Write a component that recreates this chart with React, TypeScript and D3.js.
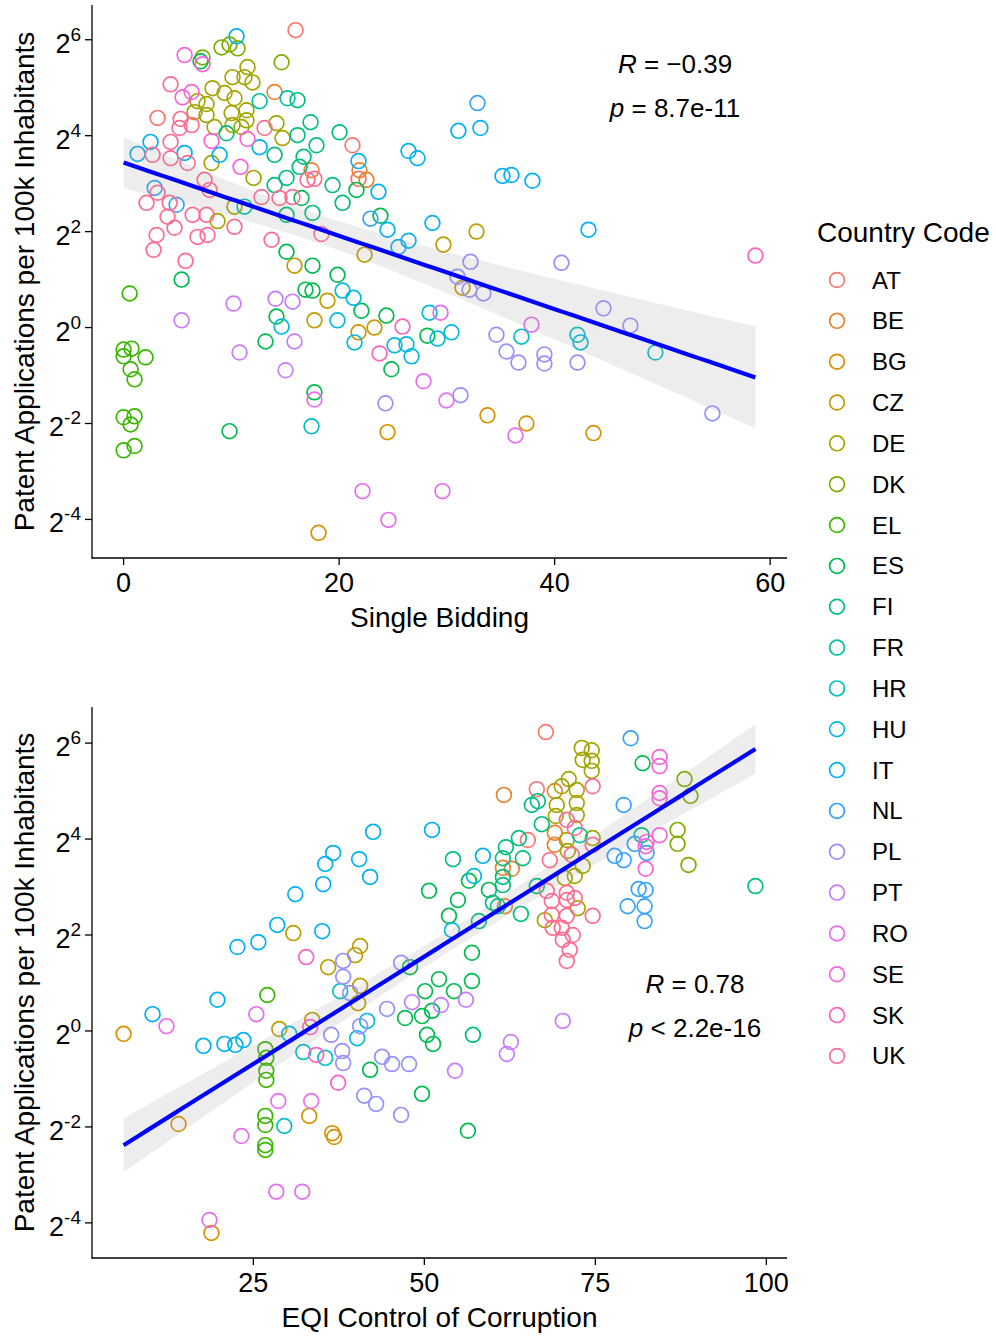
import React from 'react';
import * as d3 from 'd3';

const COUNTRIES = ['AT','BE','BG','CZ','DE','DK','EL','ES','FI','FR','HR','HU','IT','NL','PL','PT','RO','SE','SK','UK'];
const COLORS = ['#F8766D','#EA8331','#D89000','#C09B00','#A3A500','#7CAE00','#39B600','#00BB4E','#00BF7D','#00C1A3','#00BFC4','#00BAE0','#00B0F6','#35A2FF','#9590FF','#C77CFF','#E76BF3','#FA62DB','#FF62BC','#FF6C91'];

// ---- Panel 1: Single Bidding (x) vs log2 patent applications (y) ----
const sbX: Record<string, number[]> = {
  AT: [15.96, 3.15, 21.24, 21.80],
  BE: [14.01, 21.89, 22.54, 17.44],
  BG: [21.80, 24.49, 33.77, 37.38, 43.60, 18.09],
  CZ: [15.86, 18.92, 17.71, 23.28, 29.68, 32.75, 22.36, 31.45],
  DE: [10.11, 11.22, 11.50, 11.96, 8.25, 9.37, 10.29, 6.86, 7.70, 10.02, 11.41, 11.41, 8.44, 10.11, 10.94, 14.19, 14.75, 8.16, 12.06, 10.29, 8.72, 6.58, 7.70],
  DK: [9.09, 9.83, 10.58, 7.33, 14.66],
  EL: [0.56, 0, 0.74, 0, 2.04, 0.65, 1.02, 0, 1.02, 0.65, 0, 1.02],
  ES: [5.38, 7.14, 9.83, 13.17, 14.19, 15.12, 16.88, 17.53, 17.53, 17.71, 19.85, 22.07, 24.39, 24.85, 28.19, 16.51, 21.61, 23.84],
  FI: [9.55, 16.14, 16.14, 17.35, 14.01, 16.70, 16.33, 14.01, 15.12, 15.12, 17.53, 20.04, 17.90, 19.39, 20.32],
  FR: [12.62, 11.22, 15.21],
  HR: [17.44, 42.12, 49.35, 36.92],
  HU: [14.66, 20.32, 21.34, 19.85, 21.43, 25.14, 26.25, 26.72, 28.39, 29.13, 30.43, 42.40],
  IT: [10.48, 2.50, 12.62, 1.30, 8.91, 5.66, 21.80, 23.65, 24.49, 28.66, 26.44, 25.51, 31.07, 33.11, 26.44, 27.27, 35.16, 35.99, 37.94, 43.14],
  NL: [32.84, 2.88, 4.92, 22.91],
  PL: [24.30, 31.26, 30.98, 32.10, 33.39, 32.19, 34.60, 35.53, 36.64, 39.05, 39.05, 40.63, 44.53, 47.03, 42.12, 54.64],
  PT: [5.38, 10.20, 10.76, 15.86, 15.03, 14.10, 15.68],
  RO: [17.71, 29.41, 37.85, 29.96, 36.36, 22.17, 29.59, 24.58, 27.83],
  SE: [5.66, 7.33, 6.31, 5.47, 8.16, 11.50, 10.85],
  SK: [58.63, 25.88, 23.75],
  UK: [4.36, 5.29, 5.19, 6.31, 13.08, 4.36, 2.69, 4.36, 5.94, 7.51, 7.98, 3.15, 4.27, 2.13, 12.80, 14.47, 15.67, 17.06, 17.71, 4.08, 6.40, 7.70, 10.29, 4.73, 3.06, 6.86, 7.79, 13.73, 2.78, 5.75, 18.36],
};
const sbLog2Patents: Record<string, number[]> = {
  AT: [6.20, 4.37, 3.80, 3.10],
  BE: [4.91, 3.28, 3.08, 3.28],
  BG: [-0.10, -2.18, -1.83, -2.00, -2.20, -4.28],
  CZ: [1.29, 0.56, 0.15, 0.00, 1.73, 2.00, 1.52, 0.83],
  DE: [5.22, 5.22, 5.43, 5.11, 4.99, 4.89, 4.78, 4.72, 4.66, 4.47, 4.53, 4.32, 4.18, 4.22, 4.18, 4.26, 3.95, 3.43, 3.12, 2.52, 2.22, 4.49, 4.43],
  DK: [5.84, 5.90, 5.82, 5.63, 5.53],
  EL: [0.71, -0.46, -0.44, -0.60, -0.62, -0.87, -1.08, -1.87, -1.85, -2.02, -2.56, -2.47],
  ES: [1.00, 5.55, -2.16, -0.29, 0.23, 1.58, 0.79, 0.77, 1.29, -1.35, 1.10, 0.35, 0.25, -0.87, -0.17, 2.70, 2.87, 2.33],
  FI: [4.05, 4.74, 4.01, 4.28, 3.60, 3.56, 3.35, 2.97, 3.12, 2.35, 2.39, 4.07, 3.80, 2.97, 2.60],
  FR: [4.72, 2.52, 4.78],
  HR: [-2.06, -0.15, -0.52, -0.19],
  HU: [0.02, 0.77, 0.62, 0.15, -0.31, -0.37, -0.35, -0.60, 0.31, -0.23, -0.10, -0.31],
  IT: [6.07, 3.87, 3.76, 3.62, 3.60, 3.64, 3.47, 2.83, 2.04, 2.18, 1.81, 1.68, 4.10, 4.16, 3.68, 3.53, 3.16, 3.18, 3.06, 2.04],
  NL: [4.68, 2.91, 2.56, 2.27],
  PL: [-1.58, -1.41, 1.06, 0.79, 0.71, 1.37, -0.15, -0.50, -0.73, -0.56, -0.75, 1.35, 0.40, 0.04, -0.73, -1.79],
  PT: [0.15, 0.50, -0.52, -0.29, -0.89, 0.60, 0.54],
  RO: [-1.50, 0.31, 0.06, -1.52, -2.25, -3.41, -3.41, -4.01, -1.12],
  SE: [5.68, 5.49, 4.91, 4.80, 3.89, 3.93, 3.35],
  SK: [1.50, 0.02, -0.54],
  UK: [5.07, 4.35, 4.16, 4.22, 4.16, 3.87, 3.60, 3.53, 3.43, 3.08, 2.87, 2.81, 2.60, 2.60, 2.72, 2.70, 2.72, 3.08, 3.10, 2.31, 2.35, 2.35, 2.10, 2.08, 1.93, 1.89, 1.93, 1.83, 1.62, 1.39, 1.95],
};

// ---- Panel 2: EQI Control of Corruption (x) vs log2 patent applications (y) ----
const eqiX: Record<string, number[]> = {
  AT: [67.76, 66.44, 65.13],
  BE: [61.63, 69.07, 61.48, 62.79, 61.77, 69.07, 69.07],
  BG: [6.03, 33.17, 14.06, 36.53, 36.82, 18.87],
  CZ: [30.84, 35.94, 28.79, 33.61, 40.61, 39.88, 40.61, 40.32],
  DE: [73.01, 74.47, 73.15, 74.47, 74.47, 71.11, 72.28, 70.09, 69.36, 72.28, 69.21, 72.28, 70.82, 74.61, 70.97, 73.15, 71.99, 70.53, 72.42, 67.61],
  DK: [88.04, 88.91, 87.02, 87.02, 88.62],
  EL: [27.04, 26.75, 26.90, 26.90, 26.90, 26.75, 26.75, 26.75, 26.75],
  ES: [81.91, 56.52, 50.68, 54.91, 59.44, 53.60, 56.96, 47.91, 52.14, 50.10, 54.33, 56.96, 47.18, 49.66, 51.12, 50.39, 51.27, 42.07, 49.66, 56.37],
  FI: [54.18, 61.92, 63.82, 61.48, 64.40, 61.48, 61.48, 60.02, 60.75, 64.11, 57.98, 57.10, 66.59, 65.71, 67.17, 66.44, 98.40, 81.76],
  FR: [72.72],
  HR: [32.30, 35.51, 29.52, 37.70],
  HU: [30.25, 41.64, 40.18, 54.04, 57.25],
  IT: [31.13, 35.21, 28.50, 35.07, 22.67, 25.73, 19.75, 10.26, 17.70, 20.77, 22.37, 23.54, 42.51, 51.12, 36.67, 40.47, 42.07, 58.56, 35.51],
  NL: [80.16, 79.14, 80.74, 82.49, 77.82, 79.14, 81.33, 82.35, 79.72, 82.20, 82.20],
  PL: [38.13, 38.13, 36.38, 37.99, 38.13, 46.60, 39.15, 44.55, 40.61, 43.82, 45.28, 47.76, 41.20, 42.95, 46.60],
  PT: [48.20, 52.43, 56.08, 62.65, 62.06, 54.48, 70.24],
  RO: [25.44, 12.30, 28.65, 33.46, 23.25, 28.36, 32.15, 18.58],
  SE: [84.39, 84.39, 84.39, 84.39, 84.39, 82.49, 82.35, 82.35],
  SK: [32.73, 33.32, 34.19, 37.40],
  UK: [74.61, 70.82, 71.99, 74.61, 67.90, 70.82, 68.34, 71.55, 68.63, 70.82, 71.99, 68.63, 70.82, 74.61, 68.78, 70.09, 71.69, 70.24, 71.26, 70.82],
};
const eqiLog2Patents: Record<string, number[]> = {
  AT: [6.23, 5.04, 3.98],
  BE: [4.92, 5.00, 3.40, 3.38, 2.60, 4.13, 3.88],
  BG: [-0.06, -1.77, -1.94, -2.13, -2.21, -4.21],
  CZ: [2.04, 1.33, 0.04, 0.23, 1.77, 1.58, 0.94, 0.58],
  DE: [5.90, 5.85, 5.65, 5.63, 5.42, 5.25, 5.02, 5.10, 4.71, 4.75, 4.48, 4.50, 3.98, 4.02, 3.75, 3.44, 3.23, 3.19, 2.56, 2.31],
  DK: [5.25, 4.90, 4.19, 3.90, 3.46],
  EL: [0.75, -0.38, -0.56, -0.83, -1.02, -1.77, -1.96, -2.38, -2.48],
  ES: [5.58, 3.13, 2.92, 2.73, 2.94, 2.40, 1.63, 1.33, 1.08, 0.83, 0.83, 1.04, 0.27, 0.31, 0.42, -0.08, -0.27, -0.81, -1.31, -2.08],
  FI: [3.58, 3.83, 4.02, 3.60, 3.60, 3.21, 3.04, 2.67, 2.60, 2.44, 2.29, -0.08, 4.79, 4.71, 4.31, 3.02, 3.02, 4.08],
  FR: [4.08],
  HR: [-0.44, -0.56, -1.98, 0.83],
  HU: [-0.06, 0.21, -0.15, 2.10, 3.23],
  IT: [2.85, 3.06, 2.21, 2.08, 1.75, 1.85, 0.65, 0.35, -0.31, -0.27, -0.29, -0.19, 4.15, 4.19, 3.71, 3.58, 3.21, 3.65, 3.48],
  NL: [6.10, 4.71, 3.90, 3.71, 3.65, 3.56, 2.96, 2.94, 2.60, 2.60, 2.29],
  PL: [1.46, 1.13, -0.08, -0.42, -0.67, 1.42, 0.79, 0.46, 0.10, -0.54, -0.69, -0.69, -1.35, -1.52, -1.75],
  PT: [0.60, 0.54, 0.65, -0.23, -0.48, -0.83, 0.21],
  RO: [0.35, 0.10, -1.46, -1.46, -2.19, -3.35, -3.35, -3.94],
  SE: [5.71, 5.52, 4.96, 4.85, 4.08, 3.94, 3.85, 3.38],
  SK: [1.54, 0.08, -0.50, -1.08],
  UK: [5.10, 4.40, 4.23, 3.88, 2.92, 2.88, 3.56, 3.67, 2.71, 2.73, 2.77, 2.42, 2.40, 2.40, 2.15, 2.15, 2.00, 1.90, 1.69, 1.46],
};

// Linear fits (log2 scale): [intercept, slope]
const sbFitCoef = [3.44, -0.0764];
const eqiFitCoef = [-2.92, 0.0894];

const sbTicks = [0, 20, 40, 60];
const eqiTicks = [25, 50, 75, 100];
const yTickExps = [-4, -2, 0, 2, 4, 6];
const sbStats = ['\u22120.39', ' = 8.7e-11'];
const eqiStats = ['0.78', ' < 2.2e-16'];

const FONT = 'Liberation Sans, Arial, Helvetica, sans-serif';

type Pt = { x: number; y: number; c: string };

function toPoints(xs: Record<string, number[]>, ls: Record<string, number[]>): Pt[] {
  const out: Pt[] = [];
  COUNTRIES.forEach((c) => {
    (xs[c] || []).forEach((x, i) => out.push({ x, y: Math.pow(2, ls[c][i]), c }));
  });
  return out;
}

function fitBand(pts: Pt[], coef: number[]) {
  const xs = pts.map((p) => p.x);
  const ys = pts.map((p) => Math.log2(p.y));
  const n = xs.length;
  const mx = d3.mean(xs)!;
  const [a, b] = coef;
  let sxx = 0, sse = 0;
  for (let i = 0; i < n; i++) {
    sxx += (xs[i] - mx) ** 2;
    sse += (ys[i] - a - b * xs[i]) ** 2;
  }
  const s = Math.sqrt(sse / (n - 2));
  const [x0, x1] = d3.extent(xs) as [number, number];
  const grid = d3.range(80).map((i) => x0 + ((x1 - x0) * i) / 79);
  return grid.map((x) => {
    const yh = a + b * x;
    const se = s * Math.sqrt(1 / n + (x - mx) ** 2 / sxx);
    return { x, y: yh, lo: yh - 1.97 * se, hi: yh + 1.97 * se };
  });
}

function Panel({ pts, coef, top, bottom, xTicks, xTitle, stats, statX, statY }: {
  pts: Pt[]; coef: number[]; top: number; bottom: number; xTicks: number[]; xTitle: string;
  stats: string[]; statX: number; statY: number;
}) {
  const left = 92, right = 787;
  const [xa, xb] = d3.extent(pts, (p) => p.x) as [number, number];
  const [ya, yb] = d3.extent(pts, (p) => Math.log2(p.y)) as [number, number];
  const ex = (xb - xa) * 0.05, ey = (yb - ya) * 0.05;
  const x = d3.scaleLinear().domain([xa - ex, xb + ex]).range([left, right]);
  const y = d3.scaleLog().base(2).domain([Math.pow(2, ya - ey), Math.pow(2, yb + ey)]).range([bottom, top]);
  const f = fitBand(pts, coef);
  const area = d3.area<any>().x((d) => x(d.x)).y0((d) => y(Math.pow(2, d.lo))).y1((d) => y(Math.pow(2, d.hi)));
  const line = d3.line<any>().x((d) => x(d.x)).y((d) => y(Math.pow(2, d.y)));
  const midY = (top + bottom) / 2;
  return (
    <g>
      {pts.map((p, i) => (
        <circle key={i} cx={x(p.x)} cy={y(p.y)} r={7.4} fill="none"
          stroke={COLORS[COUNTRIES.indexOf(p.c)]} strokeWidth={1.7} />
      ))}
      <path d={area(f)!} fill="#999999" fillOpacity={0.18} />
      <path d={line(f)!} fill="none" stroke="#0000FF" strokeWidth={4.2} />
      <line x1={left} x2={left} y1={top} y2={bottom + 0.5} stroke="#000" strokeWidth={1.3} />
      <line x1={left - 0.5} x2={right} y1={bottom} y2={bottom} stroke="#000" strokeWidth={1.3} />
      {xTicks.map((t) => (
        <g key={t}>
          <line x1={x(t)} x2={x(t)} y1={bottom} y2={bottom + 7} stroke="#000" strokeWidth={1.3} />
          <text x={x(t)} y={bottom + 34} textAnchor="middle" fontSize={27} fill="#000">{t}</text>
        </g>
      ))}
      {yTickExps.map((k) => (
        <g key={k}>
          <line x1={left - 7} x2={left} y1={y(Math.pow(2, k))} y2={y(Math.pow(2, k))} stroke="#000" strokeWidth={1.3} />
          <text x={left - 11} y={y(Math.pow(2, k)) + 13} textAnchor="end" fill="#000" fontSize={27}>
            <tspan>2</tspan><tspan dy={-12} fontSize={19}>{k}</tspan>
          </text>
        </g>
      ))}
      <text x={(left + right) / 2} y={bottom + 69} textAnchor="middle" fontSize={28} fill="#000">{xTitle}</text>
      <text transform={`translate(34,${midY}) rotate(-90)`} textAnchor="middle" fontSize={28} fill="#000">
        Patent Applications per 100k Inhabitants
      </text>
      <text x={statX} y={statY} textAnchor="middle" fontSize={26} fill="#000">
        <tspan fontStyle="italic">R</tspan><tspan>{' = ' + stats[0]}</tspan>
      </text>
      <text x={statX} y={statY + 44} textAnchor="middle" fontSize={26} fill="#000">
        <tspan fontStyle="italic">p</tspan><tspan>{stats[1]}</tspan>
      </text>
    </g>
  );
}

export default function App() {
  const p1 = toPoints(sbX, sbLog2Patents);
  const p2 = toPoints(eqiX, eqiLog2Patents);
  return (
    <div style={{ position: 'absolute', left: 0, top: 0 }}>
      <svg width={996} height={1337} style={{ display: 'block', fontFamily: FONT }}>
        <rect width={996} height={1337} fill="#fff" />
        <Panel pts={p1} coef={sbFitCoef} top={5} bottom={558} xTicks={sbTicks} xTitle="Single Bidding" stats={sbStats} statX={675} statY={73} />
        <Panel pts={p2} coef={eqiFitCoef} top={707} bottom={1258} xTicks={eqiTicks} xTitle="EQI Control of Corruption" stats={eqiStats} statX={695} statY={993} />
        <text x={817} y={242} fontSize={28} fill="#000">Country Code</text>
        {COUNTRIES.map((c, i) => (
          <g key={c}>
            <circle cx={837} cy={280 + i * 40.84} r={7.4} fill="none" stroke={COLORS[i]} strokeWidth={1.7} />
            <text x={872} y={280 + i * 40.84 + 8.5} fontSize={24} fill="#000">{c}</text>
          </g>
        ))}
      </svg>
    </div>
  );
}
